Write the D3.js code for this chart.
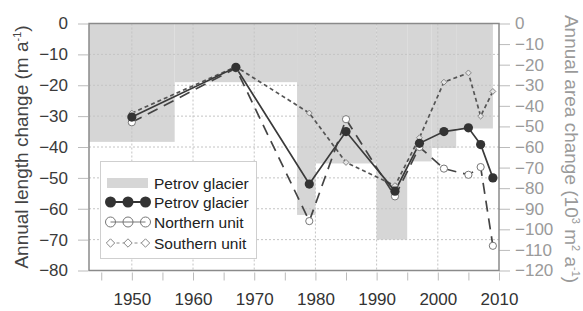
<!DOCTYPE html>
<html>
<head>
<meta charset="utf-8">
<script src="https://cdn.jsdelivr.net/npm/d3@7"></script>
<style>
  body { margin: 0; background: #fff; }
  svg { display: block; font-family: "Liberation Sans", Arial, sans-serif; }
</style>
</head>
<body>
<div id="chart"></div>
<script>
// Survey years for length change
const years = [1950, 1967, 1979, 1985, 1993, 1997, 2001, 2005, 2007, 2009];
const petrovLength = [-30.3, -14.2, -52, -35, -54.3, -38.8, -35, -33.8, -39.2, -50];
const northernLength = [-32, -14.5, -64, -31, -56, -40, -47, -49, -46.5, -72];
const southernLength = [-29, -14, -29, -45, -52.5, -37, -19, -16, -30, -22];

// Area change periods (right axis)
const periodStart = [1943, 1957, 1977, 1980, 1990, 1995, 1999, 2003];
const periodEnd = [1957, 1977, 1980, 1990, 1995, 1999, 2003, 2009];
const areaChange = [-57.5, -28.5, -93, -68, -105, -67, -60.5, -51];

const leftTicks = d3.range(0, -81, -10);
const rightTicks = d3.range(0, -121, -10);
const yearTicks = d3.range(1945, 2011, 5);

const width = 583, height = 311;
const frame = { left: 89, right: 499, top: 23.5, bottom: 270.5 };

const svg = d3.select("#chart").append("svg")
  .attr("width", width)
  .attr("height", height);

//#region scales
const x = d3.scaleLinear().domain([1943, 2010]).range([frame.left, frame.right]);
const yL = d3.scaleLinear().domain([0, -80]).range([frame.top, frame.bottom]);
const yR = d3.scaleLinear().domain([0, -120]).range([frame.top, frame.bottom]);
//#endregion

//#region area bars
svg.append("g")
  .selectAll("rect")
  .data(areaChange)
  .enter()
  .append("rect")
  .attr("x", (d, i) => x(periodStart[i]))
  .attr("width", (d, i) => x(periodEnd[i]) - x(periodStart[i]))
  .attr("y", yR(0))
  .attr("height", d => yR(d) - yR(0))
  .attr("fill", "#d6d6d6");
//#endregion

//#region grid
const grid = svg.append("g")
  .attr("stroke", "#c4c4c4")
  .attr("stroke-width", 1)
  .attr("stroke-dasharray", "2,2");
grid.selectAll("line.h")
  .data(leftTicks.slice(1, -1))
  .enter().append("line")
  .attr("x1", frame.left).attr("x2", frame.right)
  .attr("y1", d => yL(d)).attr("y2", d => yL(d));
grid.selectAll("line.v")
  .data(yearTicks.filter(d => d % 10 === 0 && d < 2010))
  .enter().append("line")
  .attr("y1", frame.top).attr("y2", frame.bottom)
  .attr("x1", d => x(d)).attr("x2", d => x(d));
//#endregion

//#region axes
const axisL = d3.axisLeft(yL).tickValues(leftTicks).tickSize(10).tickPadding(10).tickSizeOuter(0);
const gL = svg.append("g").attr("transform", `translate(${frame.left - 1},0)`).call(axisL);
gL.select(".domain").remove();
gL.selectAll("line").attr("stroke", "#bbb");
gL.selectAll("text").attr("fill", "#3a3a3a").style("font-size", "17px");

const axisR = d3.axisRight(yR).tickValues(rightTicks).tickSize(11).tickPadding(5).tickSizeOuter(0);
const gR = svg.append("g").attr("transform", `translate(${frame.right},0)`).call(axisR);
gR.select(".domain").remove();
gR.selectAll("line").attr("stroke", "#bbb");
gR.selectAll("text").attr("fill", "#9a9a9a").style("font-size", "17px");

const axisX = d3.axisBottom(x).tickValues(yearTicks)
  .tickFormat(d => (d % 10 === 0 ? d : ""))
  .tickSize(8).tickPadding(12).tickSizeOuter(0);
const gX = svg.append("g").attr("transform", `translate(0,${frame.bottom + 2})`).call(axisX);
gX.select(".domain").remove();
gX.selectAll("line").attr("stroke", "#bbb");
gX.selectAll("text").attr("fill", "#333").style("font-size", "17px");
//#endregion

//#region lines
const lineOf = values => d3.line()
  .x((d, i) => x(years[i]))
  .y(d => yL(d))(values);

svg.append("path")
  .attr("d", lineOf(southernLength))
  .attr("fill", "none").attr("stroke", "#555")
  .attr("stroke-width", 1.7).attr("stroke-dasharray", "4,3");
svg.append("path")
  .attr("d", lineOf(northernLength))
  .attr("fill", "none").attr("stroke", "#444")
  .attr("stroke-width", 1.7).attr("stroke-dasharray", "11,7");
svg.append("path")
  .attr("d", lineOf(petrovLength))
  .attr("fill", "none").attr("stroke", "#3a3a3a")
  .attr("stroke-width", 1.7);

const diamond = d3.symbol(d3.symbolDiamond2, 22);
svg.append("g").selectAll("path")
  .data(southernLength).enter().append("path")
  .attr("d", diamond)
  .attr("transform", (d, i) => `translate(${x(years[i])},${yL(d)})`)
  .attr("fill", "#e4e4e4").attr("stroke", "#888").attr("stroke-width", 1);
svg.append("g").selectAll("circle")
  .data(northernLength).enter().append("circle")
  .attr("cx", (d, i) => x(years[i])).attr("cy", d => yL(d))
  .attr("r", 3.6)
  .attr("fill", "#fff").attr("stroke", "#777").attr("stroke-width", 1);
svg.append("g").selectAll("circle")
  .data(petrovLength).enter().append("circle")
  .attr("cx", (d, i) => x(years[i])).attr("cy", d => yL(d))
  .attr("r", 4.6)
  .attr("fill", "#333");
//#endregion

//#region frame
svg.append("rect")
  .attr("x", frame.left).attr("y", frame.top)
  .attr("width", frame.right - frame.left).attr("height", frame.bottom - frame.top)
  .attr("fill", "none").attr("stroke", "#8a8a8a").attr("stroke-width", 1.5);
//#endregion

//#region legend
const legend = svg.append("g").attr("transform", "translate(100.5,161.5)");
legend.append("rect")
  .attr("width", 156).attr("height", 97)
  .attr("fill", "#fff").attr("stroke", "#cfcfcf");

const rowY = [21.5, 40.5, 60.5, 81.5];
const markX = [10, 27.5, 45];
const labels = ["Petrov glacier", "Petrov glacier", "Northern unit", "Southern unit"];

legend.append("rect")
  .attr("x", 6.5).attr("y", rowY[0] - 5).attr("width", 41).attr("height", 10)
  .attr("fill", "#d6d6d6");

legend.append("line")
  .attr("x1", markX[0]).attr("x2", markX[2]).attr("y1", rowY[1]).attr("y2", rowY[1])
  .attr("stroke", "#333").attr("stroke-width", 2);
legend.selectAll("circle.p").data(markX).enter().append("circle")
  .attr("cx", d => d).attr("cy", rowY[1]).attr("r", 5.5).attr("fill", "#333");

legend.selectAll("circle.n").data(markX).enter().append("circle")
  .attr("cx", d => d).attr("cy", rowY[2]).attr("r", 5)
  .attr("fill", "#fff").attr("stroke", "#777");
legend.append("line")
  .attr("x1", markX[0]).attr("x2", markX[2]).attr("y1", rowY[2]).attr("y2", rowY[2])
  .attr("stroke", "#777").attr("stroke-width", 1);

legend.append("line")
  .attr("x1", markX[0]).attr("x2", markX[2]).attr("y1", rowY[3]).attr("y2", rowY[3])
  .attr("stroke", "#888").attr("stroke-width", 1).attr("stroke-dasharray", "3,3");
legend.selectAll("path.s").data(markX).enter().append("path")
  .attr("d", d3.symbol(d3.symbolDiamond2, 45))
  .attr("transform", d => `translate(${d},${rowY[3]})`)
  .attr("fill", "#fff").attr("stroke", "#888");

legend.selectAll("text").data(labels).enter().append("text")
  .attr("x", 53.5).attr("y", (d, i) => rowY[i] + 5.5)
  .attr("fill", "#222").style("font-size", "15.5px")
  .text(d => d);
//#endregion

//#region axis titles
const titleL = svg.append("text")
  .attr("transform", `translate(28,${(frame.top + frame.bottom) / 2}) rotate(-90)`)
  .attr("text-anchor", "middle").attr("fill", "#444").style("font-size", "19px");
titleL.append("tspan").text("Annual length change (m a");
titleL.append("tspan").attr("dy", -7).style("font-size", "11px").text("-1");
titleL.append("tspan").attr("dy", 7).text(")");

const titleR = svg.append("text")
  .attr("transform", `translate(565,${(frame.top + frame.bottom) / 2 + 2}) rotate(90)`)
  .attr("text-anchor", "middle").attr("fill", "#9a9a9a").style("font-size", "19px");
titleR.append("tspan").text("Annual area change (10");
titleR.append("tspan").attr("dy", -7).style("font-size", "11px").text("3");
titleR.append("tspan").attr("dy", 7).text(" m");
titleR.append("tspan").attr("dy", -7).style("font-size", "11px").text("2");
titleR.append("tspan").attr("dy", 7).text(" a");
titleR.append("tspan").attr("dy", -7).style("font-size", "11px").text("-1");
titleR.append("tspan").attr("dy", 7).text(")");
//#endregion
</script>
</body>
</html>
